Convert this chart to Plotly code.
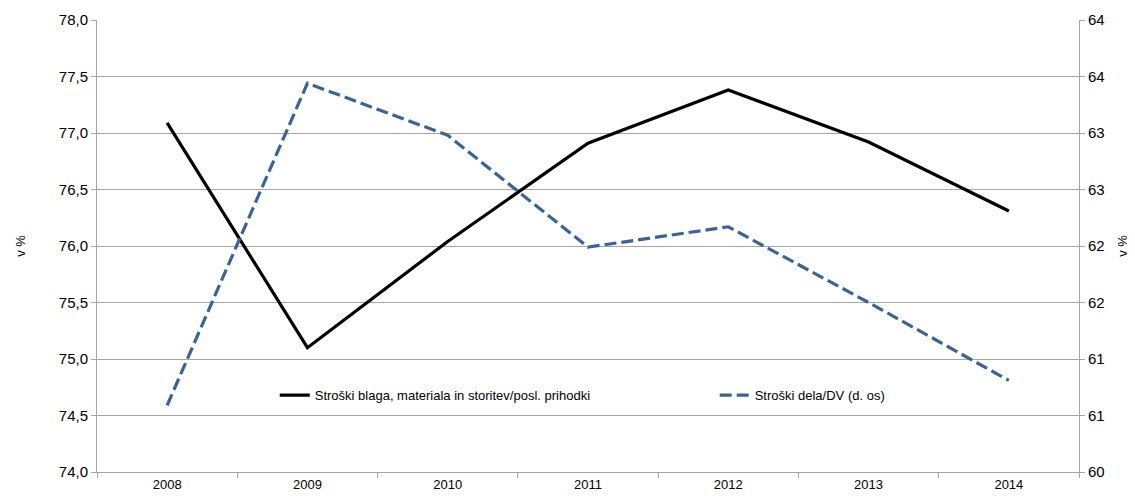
import plotly.graph_objects as go

years = ["2008", "2009", "2010", "2011", "2012", "2013", "2014"]
stroski_blaga = [77.09, 75.10, 76.04, 76.91, 77.38, 76.92, 76.31]
stroski_dela = [60.59, 63.44, 62.98, 61.99, 62.17, 61.50, 60.81]

left_tickvals = [74.0, 74.5, 75.0, 75.5, 76.0, 76.5, 77.0, 77.5, 78.0]
right_tickvals = [60.0, 60.5, 61.0, 61.5, 62.0, 62.5, 63.0, 63.5, 64.0]
right_ticktext = ["60", "61", "61", "62", "62", "63", "63", "64", "64"]

name1 = "Stroški blaga, materiala in storitev/posl. prihodki"
name2 = "Stroški dela/DV (d. os)"

FONT = "Liberation Sans Narrow, Liberation Sans, Arial, sans-serif"
GRID = "#a6a6a6"

fig = go.Figure()
fig.add_trace(go.Scatter(
    x=years, y=stroski_blaga, name=name1, mode="lines",
    line=dict(color="#000000", width=3.2), yaxis="y", legend="legend"))
fig.add_trace(go.Scatter(
    x=years, y=stroski_dela, name=name2, mode="lines",
    line=dict(color="#3a6399", width=3.2, dash="12px,5px"), yaxis="y2", legend="legend2"))

leg_common = dict(orientation="h", yanchor="middle", xanchor="left",
                  bgcolor="rgba(0,0,0,0)", font=dict(family=FONT, size=13))

fig.update_layout(
    width=1135, height=503,
    margin=dict(l=89, r=64, t=12, b=39, autoexpand=False),
    paper_bgcolor="white", plot_bgcolor="white",
    separators=",.",
    font=dict(family=FONT, size=13, color="#000000"),
    showlegend=True,
    legend=dict(x=0.181, y=0.17, **leg_common),
    legend2=dict(x=0.629, y=0.17, **leg_common),
    xaxis=dict(type="category", range=[-0.5, 6.5], showgrid=False, showline=True,
               linecolor=GRID, linewidth=1, automargin=False,
               ticks="outside", tickson="boundaries", ticklen=5, tickcolor=GRID,
               tickfont=dict(size=13), zeroline=False),
    yaxis=dict(range=[74, 78], tickvals=left_tickvals, tickformat=".1f",
               showgrid=True, gridcolor=GRID, gridwidth=1, automargin=False,
               showline=True, linecolor=GRID, linewidth=1,
               ticks="outside", ticklen=5, tickcolor=GRID, zeroline=False,
               tickfont=dict(size=15),
               title=dict(text="v %", standoff=30, font=dict(size=13))),
    yaxis2=dict(range=[60, 64], tickvals=right_tickvals, ticktext=right_ticktext,
                overlaying="y", side="right", showgrid=False, automargin=False,
                showline=True, linecolor=GRID, linewidth=1,
                ticks="outside", ticklen=5, tickcolor=GRID, zeroline=False,
                tickfont=dict(size=15),
                title=dict(text="v %", standoff=14, font=dict(size=13))),
)

fig.write_html("out.html")
